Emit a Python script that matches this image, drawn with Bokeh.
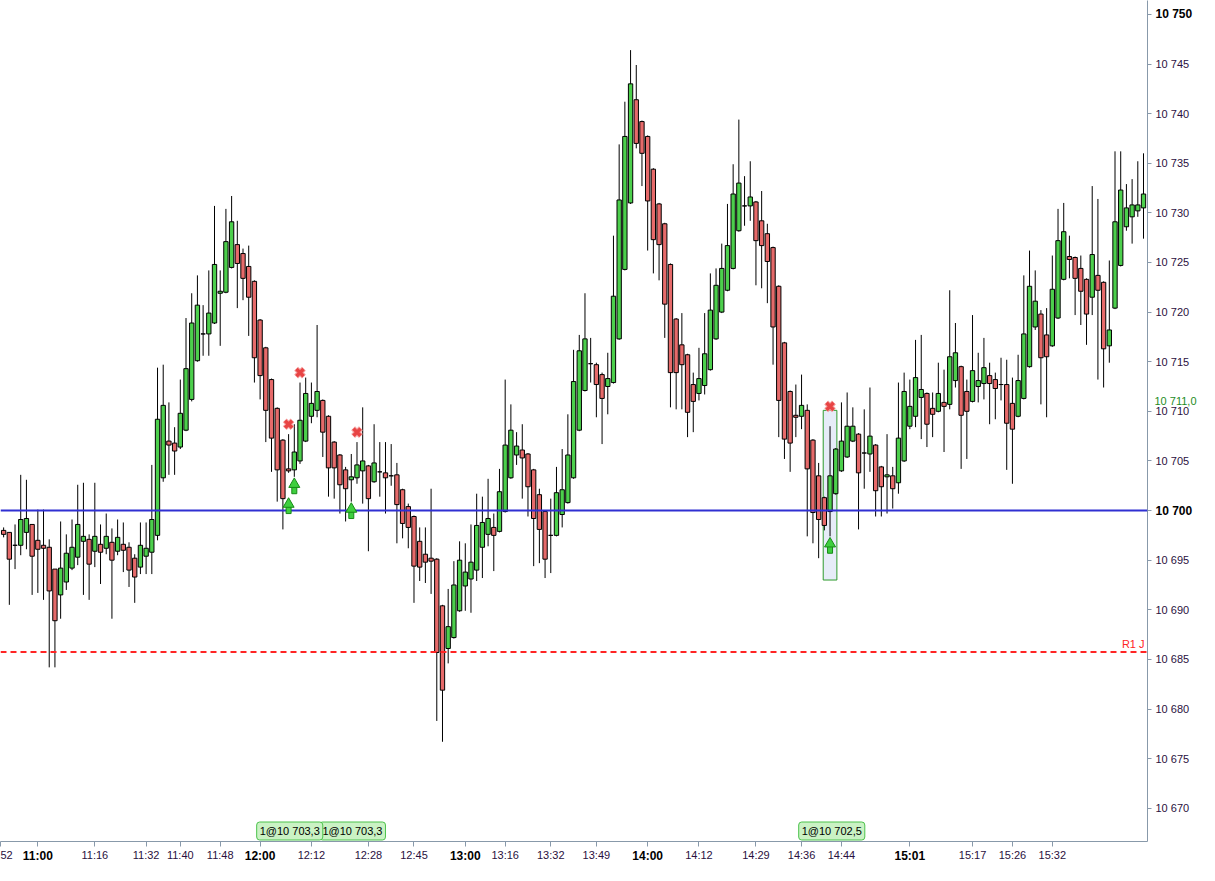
#===========================
#       Bokeh-Related Imports
from bokeh.embed import file_html
from bokeh.models import ColumnDataSource, FixedTicker, Label, LinearAxis, Range1d, Span
from bokeh.plotting import figure
from bokeh.resources import INLINE

#-- candle data, one entry per bar (bar 1 .. 201)
opens = [
    10698.0, 10697.8, 10696.5, 10696.5, 10697.8, 10698.6, 10697.0, 10696.5, 10696.3, 10694.1,
    10691.5, 10692.8, 10694.2, 10695.3, 10696.9, 10697.1, 10695.9, 10696.6, 10696.2, 10696.8,
    10695.9, 10696.6, 10696.3, 10695.2, 10694.3, 10695.4, 10695.8, 10697.5, 10703.3, 10707.0,
    10706.8, 10706.4, 10708.1, 10711.2, 10715.1, 10717.8, 10717.8, 10718.9, 10721.9, 10722.0,
    10724.5, 10726.8, 10725.9, 10724.6, 10723.1, 10719.2, 10716.4, 10713.2, 10710.3, 10707.1,
    10704.2, 10704.1, 10705.0, 10707.0, 10709.5, 10710.1, 10711.1, 10709.5, 10706.9, 10705.6,
    10704.1, 10703.1, 10703.3, 10704.0, 10704.5, 10702.9, 10703.9, 10703.8, 10703.5, 10703.6,
    10702.1, 10700.4, 10699.4, 10696.9, 10695.6, 10695.2, 10695.1, 10690.4, 10686.1, 10687.2,
    10689.9, 10692.4, 10693.1, 10694.0, 10696.3, 10697.6, 10698.3, 10697.9, 10699.9, 10703.3,
    10705.6, 10706.1, 10705.7, 10704.1, 10701.6, 10699.9, 10697.5, 10697.5, 10699.6, 10700.8,
    10703.3, 10708.1, 10712.1, 10714.8, 10714.7, 10713.7, 10712.5, 10712.9, 10717.3, 10724.3,
    10731.0, 10741.4, 10739.2, 10737.7, 10734.4, 10730.9, 10728.9, 10724.8, 10719.3, 10716.7,
    10715.7, 10712.7, 10711.8, 10712.6, 10714.2, 10717.3, 10720.0, 10722.2, 10724.4, 10728.2,
    10730.7, 10730.7, 10731.1, 10729.2, 10727.9, 10726.5, 10722.6, 10716.9, 10712.0, 10709.6,
    10709.5, 10710.1, 10707.1, 10703.5, 10701.3, 10699.9, 10701.7, 10704.0, 10705.4, 10707.0,
    10707.7, 10705.8, 10705.7, 10706.6, 10704.4, 10703.4, 10703.5, 10702.8, 10705.0, 10708.5,
    10709.5, 10711.4, 10711.8, 10710.3, 10710.0, 10710.9, 10710.7, 10713.1, 10714.5, 10712.0,
    10711.0, 10712.5, 10712.8, 10713.6, 10713.2, 10712.7, 10712.7, 10710.8, 10709.5, 10711.3,
    10714.5, 10718.5, 10719.8, 10717.7, 10716.6, 10719.4, 10723.3, 10725.6, 10725.5, 10724.4,
    10723.3, 10721.5, 10723.7, 10723.0, 10716.6, 10720.4, 10724.7, 10728.6, 10729.6, 10730.2,
    10730.5,
]
highs = [
    10698.3, 10697.8, 10698.6, 10703.6, 10703.1, 10698.6, 10700.1, 10700.1, 10697.1, 10694.1,
    10698.9, 10697.6, 10699.1, 10702.6, 10702.8, 10697.6, 10702.8, 10698.6, 10699.7, 10698.2,
    10699.1, 10698.8, 10696.8, 10695.6, 10698.8, 10698.8, 10704.6, 10714.4, 10714.7, 10710.9,
    10708.4, 10713.2, 10719.4, 10721.9, 10723.7, 10720.7, 10724.2, 10730.7, 10724.2, 10730.4,
    10731.7, 10729.2, 10726.4, 10726.7, 10723.2, 10719.3, 10716.5, 10713.3, 10710.4, 10707.2,
    10707.7, 10708.7, 10712.9, 10713.4, 10712.9, 10718.7, 10711.2, 10709.6, 10707.0, 10705.7,
    10704.4, 10705.7, 10706.9, 10710.4, 10704.6, 10708.7, 10706.9, 10706.9, 10706.7, 10704.8,
    10702.2, 10700.7, 10699.5, 10698.3, 10698.3, 10702.2, 10695.2, 10690.5, 10692.1, 10694.9,
    10696.9, 10696.7, 10698.6, 10701.7, 10701.4, 10703.2, 10699.7, 10704.2, 10713.2, 10710.7,
    10707.9, 10708.7, 10705.8, 10704.2, 10702.2, 10700.0, 10701.2, 10704.4, 10706.2, 10709.7,
    10716.2, 10717.7, 10721.9, 10717.4, 10714.9, 10713.9, 10715.9, 10727.7, 10736.9, 10741.2,
    10746.4, 10744.9, 10739.3, 10737.8, 10734.5, 10731.0, 10729.0, 10724.9, 10719.4, 10719.9,
    10715.8, 10713.9, 10716.4, 10719.9, 10723.9, 10724.4, 10726.9, 10730.9, 10734.9, 10739.4,
    10733.7, 10735.2, 10731.2, 10732.2, 10728.9, 10726.6, 10722.7, 10717.0, 10712.1, 10712.7,
    10713.7, 10710.7, 10707.2, 10704.8, 10701.4, 10708.5, 10706.3, 10710.9, 10711.9, 10710.4,
    10707.8, 10710.2, 10712.4, 10706.7, 10704.5, 10707.7, 10704.4, 10712.9, 10713.9, 10713.2,
    10717.2, 10717.7, 10711.9, 10711.9, 10714.9, 10714.2, 10722.2, 10718.9, 10714.6, 10713.2,
    10719.7, 10715.9, 10717.4, 10714.9, 10713.9, 10715.4, 10715.2, 10713.4, 10715.7, 10723.7,
    10726.2, 10724.2, 10720.2, 10720.4, 10725.7, 10730.4, 10731.0, 10727.7, 10725.6, 10725.7,
    10723.4, 10732.7, 10731.4, 10723.1, 10725.2, 10736.2, 10736.2, 10732.9, 10733.4, 10735.2,
    10736.0,
]
lows = [
    10697.3, 10690.5, 10694.1, 10695.5, 10696.1, 10691.5, 10691.7, 10691.0, 10684.2, 10684.2,
    10689.1, 10692.0, 10694.0, 10694.5, 10691.5, 10691.0, 10694.3, 10692.6, 10695.6, 10689.1,
    10695.5, 10693.8, 10692.3, 10690.7, 10693.6, 10693.6, 10693.6, 10697.0, 10702.9, 10703.6,
    10703.6, 10706.2, 10708.0, 10711.0, 10715.0, 10715.6, 10715.6, 10718.8, 10716.6, 10721.9,
    10724.4, 10720.4, 10721.2, 10717.6, 10712.9, 10711.2, 10706.9, 10703.9, 10700.9, 10698.1,
    10703.8, 10703.4, 10704.7, 10706.9, 10708.8, 10709.4, 10705.4, 10701.4, 10701.2, 10699.7,
    10698.9, 10700.9, 10702.7, 10700.7, 10695.9, 10702.8, 10701.4, 10699.7, 10702.5, 10696.7,
    10697.2, 10696.2, 10690.7, 10692.9, 10692.7, 10691.6, 10678.8, 10676.7, 10684.6, 10687.1,
    10689.8, 10689.9, 10689.7, 10692.9, 10693.2, 10696.4, 10693.9, 10697.8, 10699.8, 10703.2,
    10704.6, 10701.2, 10699.4, 10694.4, 10694.7, 10693.2, 10693.7, 10697.4, 10698.3, 10700.7,
    10703.2, 10708.0, 10712.0, 10712.9, 10709.4, 10706.7, 10709.7, 10712.8, 10717.2, 10724.2,
    10730.9, 10736.5, 10732.7, 10726.2, 10723.9, 10723.2, 10717.4, 10710.4, 10710.2, 10710.2,
    10707.4, 10707.9, 10711.1, 10711.7, 10714.1, 10717.2, 10719.9, 10722.1, 10724.3, 10728.1,
    10728.7, 10729.2, 10722.7, 10722.4, 10720.9, 10714.7, 10707.4, 10705.2, 10703.9, 10707.4,
    10708.2, 10697.4, 10696.7, 10695.2, 10698.0, 10697.4, 10701.6, 10703.9, 10705.3, 10706.9,
    10698.1, 10702.2, 10703.9, 10699.4, 10699.4, 10699.7, 10700.2, 10701.7, 10704.9, 10708.2,
    10708.4, 10707.2, 10706.4, 10707.4, 10709.9, 10705.9, 10710.2, 10712.4, 10704.2, 10705.2,
    10710.9, 10710.9, 10711.2, 10708.7, 10709.2, 10711.1, 10704.1, 10702.7, 10709.4, 10711.2,
    10714.4, 10718.2, 10710.7, 10709.4, 10716.5, 10719.3, 10723.2, 10723.4, 10719.7, 10718.7,
    10716.7, 10719.7, 10713.2, 10712.4, 10714.9, 10720.3, 10724.6, 10728.2, 10726.9, 10729.6,
    10727.4,
]
closes = [
    10697.6, 10695.1, 10696.5, 10699.1, 10699.2, 10695.4, 10696.1, 10696.2, 10691.9, 10688.9,
    10694.2, 10695.7, 10696.3, 10698.6, 10697.4, 10694.6, 10697.4, 10695.8, 10697.4, 10695.0,
    10697.3, 10696.0, 10694.0, 10693.3, 10696.5, 10696.2, 10699.1, 10709.2, 10710.6, 10706.6,
    10706.0, 10709.8, 10714.3, 10718.9, 10720.7, 10717.8, 10719.9, 10724.8, 10722.1, 10727.1,
    10729.1, 10724.9, 10723.4, 10721.5, 10715.4, 10713.6, 10710.1, 10707.3, 10704.1, 10701.2,
    10704.0, 10705.9, 10709.1, 10711.8, 10710.8, 10712.0, 10707.9, 10704.3, 10704.3, 10702.6,
    10702.2, 10703.4, 10704.6, 10705.0, 10701.2, 10704.8, 10703.9, 10703.3, 10703.5, 10700.6,
    10698.7, 10698.3, 10694.4, 10694.3, 10694.8, 10694.9, 10685.7, 10681.9, 10688.3, 10692.5,
    10695.0, 10693.8, 10694.8, 10698.5, 10698.8, 10699.2, 10697.5, 10701.9, 10706.6, 10708.1,
    10706.5, 10705.3, 10702.4, 10699.2, 10698.1, 10695.1, 10697.5, 10701.8, 10702.1, 10705.6,
    10713.0, 10716.1, 10717.3, 10714.8, 10712.7, 10711.3, 10713.3, 10721.6, 10731.3, 10737.7,
    10743.0, 10737.0, 10736.0, 10731.2, 10727.3, 10726.8, 10720.8, 10713.9, 10713.9, 10714.7,
    10709.9, 10711.0, 10713.3, 10715.8, 10720.2, 10722.7, 10724.4, 10726.7, 10731.9, 10733.0,
    10730.7, 10731.6, 10727.2, 10726.7, 10725.1, 10718.5, 10711.1, 10707.2, 10706.8, 10709.4,
    10710.6, 10704.2, 10699.8, 10699.1, 10698.5, 10703.5, 10706.2, 10707.0, 10708.5, 10708.5,
    10703.8, 10705.8, 10707.5, 10702.0, 10702.4, 10703.6, 10702.2, 10707.3, 10712.0, 10710.5,
    10713.4, 10712.2, 10708.7, 10709.7, 10711.8, 10710.5, 10715.5, 10715.9, 10709.6, 10710.0,
    10714.1, 10713.1, 10714.4, 10712.8, 10712.3, 10712.7, 10708.8, 10708.2, 10713.1, 10717.8,
    10722.6, 10721.1, 10715.4, 10715.5, 10722.3, 10727.2, 10728.1, 10725.3, 10723.4, 10722.1,
    10719.8, 10725.8, 10722.2, 10716.3, 10718.2, 10729.1, 10732.3, 10730.5, 10730.8, 10730.8,
    10731.9,
]

#-- time axis (bar number -> label); the first label is cut at the left edge, only "52" shows
time_ticks = [0.5, 7, 17, 26, 32, 39, 46, 55, 65, 73, 82, 89, 97, 105, 114, 123, 133,
              141, 148, 160, 171, 178, 185]
time_labels = ["52", "11:00", "11:16", "11:32", "11:40", "11:48", "12:00", "12:12",
               "12:28", "12:45", "13:00", "13:16", "13:32", "13:49", "14:00", "14:12",
               "14:29", "14:36", "14:44", "15:01", "15:17", "15:26", "15:32"]
bold_times = ["11:00", "12:00", "13:00", "14:00", "15:01"]

#-- price axis
price_ticks = list(range(10670, 10751, 5))
bold_prices = [10700, 10750]

#-- horizontal levels and trade marks
level_price = 10700.0
r1_price = 10685.75
r1_text = "R1 J"
last_price = 10711.0
last_text = "10 711,0"

entry_bars = [51, 52, 62, 146]
entry_prices = [10700.3, 10702.3, 10699.8, 10696.3]
exit_bars = [51, 53, 63, 146]
exit_prices = [10708.7, 10713.9, 10707.9, 10710.5]

position_bar = 146
position_top = 10710.1
position_bottom = 10693.0

fill_bars = [56.4, 45.4, 140.5]
fill_texts = ["1@10 703,3", "1@10 703,3", "1@10 702,5"]

#===========================
#-- layout
W, H = 1199, 865
RIGHT_W, BOTTOM_H = 48, 21
X0, X1 = 0.45, 201.7
Y0, Y1 = 10666.65, 10751.4
PX_PER_PT = (H - BOTTOM_H) / (Y1 - Y0)

FONT = "Liberation Sans"
LABEL_COLOR = "#2a1040"
AXIS_COLOR = "#8899aa"
GREEN = "#4ccf4c"
RED = "#e66a6a"


def fmt_price(v):
    v = int(v)
    return f"{v // 1000} {v % 1000:03d}"


def bare_axis(axis):
    #-- an axis that only carries labels (no line, no ticks)
    axis.axis_line_color = None
    axis.major_tick_line_color = None
    axis.minor_tick_line_color = None
    axis.major_tick_in = 0
    axis.major_tick_out = 0
    axis.major_label_text_font = FONT
    return axis


p = figure(
    width=W, height=H,
    x_range=Range1d(X0, X1), y_range=Range1d(Y0, Y1),
    y_axis_location="right",
    output_backend="svg", toolbar_location=None,
    min_border_left=0, min_border_top=0,
    min_border_right=RIGHT_W, min_border_bottom=BOTTOM_H,
)
p.outline_line_color = None
p.xgrid.visible = False
p.ygrid.visible = False
p.background_fill_color = "white"
p.border_fill_color = "white"

#-- position box (behind the candles)
p.quad(left=[position_bar - 1.2], right=[position_bar + 1.2],
       top=[position_top], bottom=[position_bottom],
       fill_color="#e6ecf8", line_color="#2e9a2e", line_width=1)

#-- candles
bars = list(range(1, len(opens) + 1))
source = ColumnDataSource(data=dict(
    x=bars, o=opens, h=highs, l=lows, c=closes,
    top=[max(o, c) for o, c in zip(opens, closes)],
    bottom=[min(o, c) for o, c in zip(opens, closes)],
    color=[GREEN if c >= o else RED for o, c in zip(opens, closes)],
))
p.segment(x0="x", y0="h", x1="x", y1="l", line_color="black", line_width=1, source=source)
p.vbar(x="x", width=0.76, top="top", bottom="bottom", fill_color="color",
       line_color="black", line_width=1, source=source)

#-- levels
p.add_layout(Span(location=level_price, dimension="width", line_color="#2f2fd2", line_width=2))
p.add_layout(Span(location=r1_price, dimension="width", line_color="#ff2424",
                  line_width=2, line_dash="6 4"))
p.add_layout(Label(x=X1, y=r1_price + 2 / PX_PER_PT, x_offset=-3, text=r1_text,
                   text_align="right", text_baseline="bottom", text_color="#ff2424",
                   text_font=FONT, text_font_size="11px"))

#-- trade marks (entries: green arrows, exits: red crosses)
stem = p.rect(x=entry_bars, y=[v - 2.5 / PX_PER_PT for v in entry_prices],
              width=5, height=7, width_units="screen", height_units="screen",
              fill_color="#3fcf3f", line_color="#178a17", line_width=1)
head = p.scatter(x=entry_bars, y=[v + 3.5 / PX_PER_PT for v in entry_prices],
                 marker="triangle", size=11,
                 fill_color="#3fcf3f", line_color="#178a17", line_width=1)
cross_out = p.scatter(x=exit_bars, y=exit_prices, marker="x", size=11,
                      line_color="#f5a3a3", line_width=5.5)
cross_in = p.scatter(x=exit_bars, y=exit_prices, marker="x", size=10,
                     line_color="#e84444", line_width=3.5)
for r in (stem, head, cross_out, cross_in):
    r.level = "overlay"

#-- fill badges along the bottom
for bar, txt in zip(fill_bars, fill_texts):
    p.add_layout(Label(x=bar, y=Y0 + 1.5 / PX_PER_PT, text=txt,
                       text_align="left", text_baseline="bottom",
                       text_font=FONT, text_font_size="11px", text_color="black",
                       background_fill_color="#caf2c4", border_line_color="#4cc24c",
                       padding=3, border_radius=3))

#-- main axes: ticks + normal labels
xa = p.xaxis[0]
ya = p.yaxis[0]
xa.ticker = FixedTicker(ticks=time_ticks)
xa.major_label_overrides = {t: ("" if lab in bold_times else lab)
                            for t, lab in zip(time_ticks, time_labels)}
ya.ticker = FixedTicker(ticks=price_ticks)
ya.major_label_overrides = {v: ("" if v in bold_prices else fmt_price(v)) for v in price_ticks}
for ax in (xa, ya):
    ax.axis_line_color = AXIS_COLOR
    ax.major_tick_line_color = AXIS_COLOR
    ax.minor_tick_line_color = None
    ax.major_tick_in = 0
    ax.major_label_text_font = FONT
    ax.major_label_text_font_size = "11px"
    ax.major_label_text_color = LABEL_COLOR
xa.major_tick_out = 5
xa.major_label_standoff = 2
ya.major_tick_out = 4
ya.major_label_standoff = 4

#-- bold labels: a second axis per side, pulled back onto the first label row
bold_ticks = [t for t, lab in zip(time_ticks, time_labels) if lab in bold_times]
xb = bare_axis(LinearAxis(ticker=FixedTicker(ticks=bold_ticks)))
xb.major_label_overrides = {t: lab for t, lab in zip(time_ticks, time_labels) if lab in bold_times}
xb.major_label_text_font_size = "12px"
xb.major_label_text_font_style = "bold"
xb.major_label_text_color = "black"
xb.major_label_standoff = -15
p.add_layout(xb, "below")

yb = bare_axis(LinearAxis(ticker=FixedTicker(ticks=bold_prices)))
yb.major_label_overrides = {v: fmt_price(v) for v in bold_prices}
yb.major_label_text_font_size = "12px"
yb.major_label_text_font_style = "bold"
yb.major_label_text_color = "black"
yb.major_label_standoff = -37
p.add_layout(yb, "right")

#-- last price marker on the price scale
yc = bare_axis(LinearAxis(ticker=FixedTicker(ticks=[last_price])))
yc.major_label_overrides = {last_price: last_text}
yc.major_label_text_font_size = "11px"
yc.major_label_text_color = "#1e8c1e"
yc.major_label_standoff = -41
p.add_layout(yc, "right")

open("out.html", "w").write(file_html(p, INLINE))
